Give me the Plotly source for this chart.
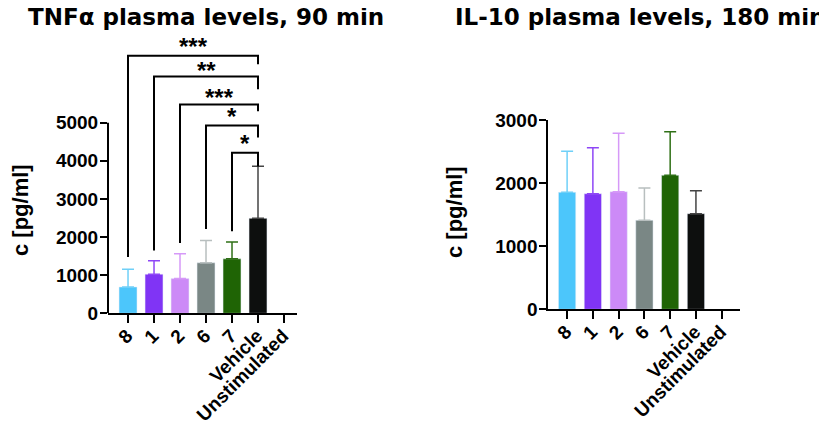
import plotly.graph_objects as go

categories = ['8', '1', '2', '6', '7', 'Vehicle', 'Unstimulated']
colors = ['#4CC6FB', '#8034F5', '#CC8AF7', '#7A8785', '#1F6405', '#0D0F0E']
err_colors = ['#6FD0F8', '#8E46F6', '#D699F8', '#B8BFBF', '#2F7016', '#444444']

# TNFa, 90 min
tnf_mean = [690, 1026, 910, 1324, 1429, 2490]
tnf_sd = [468, 350, 650, 586, 439, 1368]

# IL-10, 180 min
il10_mean = [1854, 1832, 1864, 1410, 2124, 1515]
il10_sd = [650, 729, 925, 512, 691, 365]

# significance brackets (each group vs Vehicle)
sig_from = [0, 1, 2, 3, 4]
sig_stars = ['***', '**', '***', '*', '*']
sig_top = [6753, 6211, 5474, 4929, 4211]
sig_left_end = [1474, 1650, 1845, 2213, 2150]
sig_right_end = [6534, 5876, 5297, 4613, 3850]
star_y = [7091, 6469, 5761, 5254, 4546]

# page body has an 8px margin, so the figure is 8px smaller than the window
W, H, OFF = 819, 417, 8


def px(x):
    return (x - OFF) / W


def py(y):
    return 1 - (y - OFF) / H


fig = go.Figure()

for i in range(6):
    fig.add_trace(go.Bar(x=[categories[i]], y=[tnf_mean[i]], marker_color=colors[i],
                         width=0.69, xaxis='x', yaxis='y', showlegend=False,
                         error_y=dict(type='data', array=[tnf_sd[i]], arrayminus=[0], symmetric=False,
                                      color=err_colors[i], thickness=1.5, width=6)))
    fig.add_trace(go.Bar(x=[categories[i]], y=[il10_mean[i]], marker_color=colors[i],
                         width=0.67, xaxis='x2', yaxis='y2', showlegend=False,
                         error_y=dict(type='data', array=[il10_sd[i]], arrayminus=[0], symmetric=False,
                                      color=err_colors[i], thickness=1.5, width=6)))

font = dict(family='Liberation Sans, Arial', size=19, color='black', weight='bold')

xax = dict(type='category', categoryorder='array', categoryarray=categories,
           showline=True, linecolor='black', linewidth=2, ticks='outside', ticklen=8,
           tickwidth=2, tickcolor='black', tickangle=-45, tickfont=font, showgrid=False,
           zeroline=False, automargin=False, ticklabelstandoff=-6, ticklabelshift=-1)
yax = dict(showgrid=False, zeroline=False, ticks='outside', ticklen=7, tickwidth=2,
           tickcolor='black', tickfont=font, linecolor='black', linewidth=2, automargin=False,
           ticklabelstandoff=-2)

fig.update_layout(
    width=W, height=H, margin=dict(l=0, r=0, t=0, b=0, autoexpand=False),
    plot_bgcolor='white', paper_bgcolor='white',
    xaxis=dict(xax, domain=[px(108), px(297)], range=[-0.77, 6.5], anchor='y'),
    yaxis=dict(yax, domain=[py(313.3), py(38.8)], range=[0, 7200], tickvals=[0, 1000, 2000, 3000, 4000, 5000],
               showline=False, anchor='x'),
    xaxis2=dict(xax, domain=[px(548.3), px(740)], range=[-0.73, 6.71], anchor='y2'),
    yaxis2=dict(yax, domain=[py(309.3), py(120)], range=[0, 3000], tickvals=[0, 1000, 2000, 3000],
                showline=True, anchor='x2'),
)

# left y axis line only up to 5000
fig.add_shape(type='line', xref='paper', yref='y', x0=px(108), x1=px(108), y0=0, y1=5000,
              line=dict(color='black', width=2))

# brackets
for k in range(len(sig_from)):
    i = sig_from[k]
    fig.add_shape(type='path', xref='x', yref='y',
                  path='M %d,%f L %d,%f L 5,%f L 5,%f' % (i, sig_left_end[k], i, sig_top[k],
                                                         sig_top[k], sig_right_end[k]),
                  line=dict(color='black', width=2))
    fig.add_annotation(x=(i + 5) / 2, y=star_y[k], xref='x', yref='y', text=sig_stars[k],
                       showarrow=False, yanchor='middle', yshift=-4,
                       font=dict(family='Liberation Sans, Arial', size=24, color='black', weight='bold'))

title_font = dict(family='DejaVu Sans', size=23, color='black', weight='bold')
fig.add_annotation(x=px(206), y=py(17.5), xref='paper', yref='paper', showarrow=False,
                   text='TNFα plasma levels, 90 min', font=title_font, xanchor='center', yanchor='middle')
fig.add_annotation(x=px(640), y=py(17.5), xref='paper', yref='paper', showarrow=False,
                   text='IL-10 plasma levels, 180 min', font=title_font, xanchor='center', yanchor='middle')

ytitle_font = dict(family='Liberation Sans, Arial', size=22, color='black', weight='bold')
fig.add_annotation(x=px(20), y=py(210), xref='paper', yref='paper', showarrow=False,
                   text='c [pg/ml]', textangle=-90, font=ytitle_font, xanchor='center')
fig.add_annotation(x=px(454), y=py(212), xref='paper', yref='paper', showarrow=False,
                   text='c [pg/ml]', textangle=-90, font=ytitle_font, xanchor='center')

fig.write_html('out.html')
